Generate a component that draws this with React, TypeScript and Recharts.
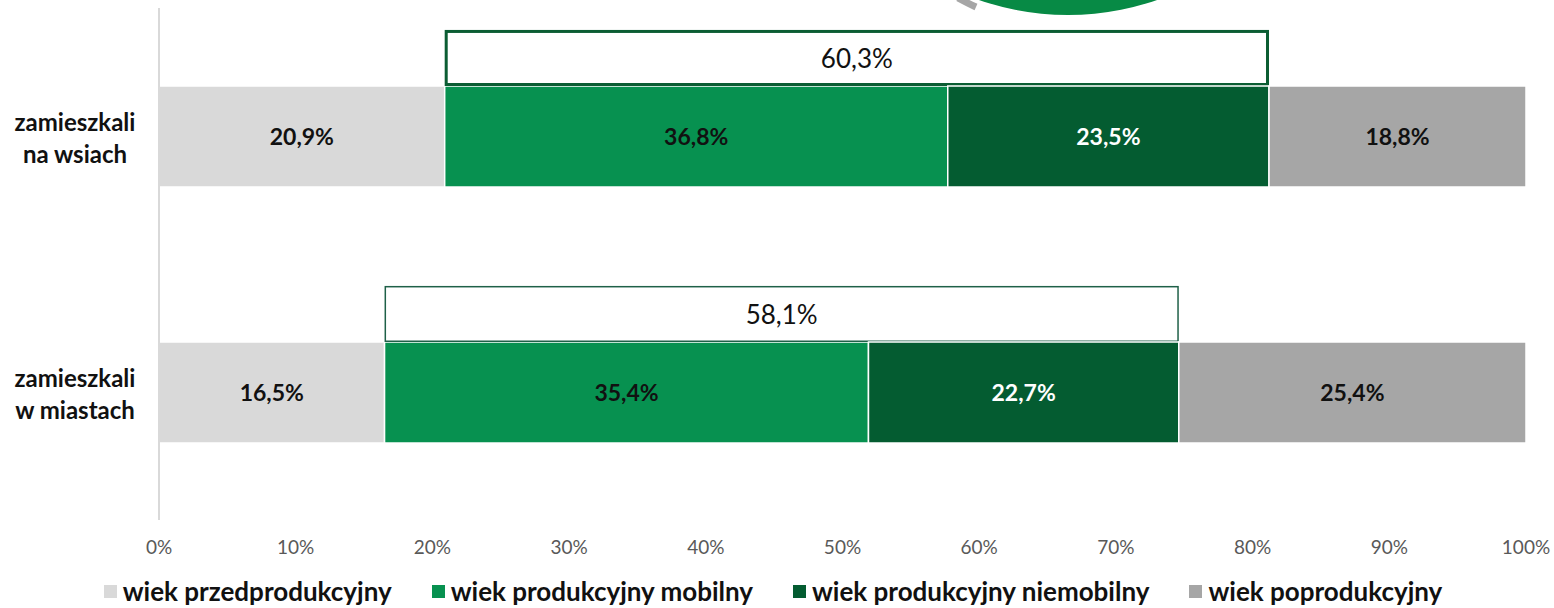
import React from "react";
import {
  BarChart,
  Bar,
  XAxis,
  YAxis,
  Legend,
  LabelList,
  Customized,
} from "recharts";

const categories = ["zamieszkali na wsiach", "zamieszkali w miastach"];
const przed = [20.9, 16.5];
const mobilny = [36.8, 35.4];
const niemobilny = [23.5, 22.7];
const po = [18.8, 25.4];
const xTicks = [0, 10, 20, 30, 40, 50, 60, 70, 80, 90, 100];

const data = categories.map((name, i) => ({
  name,
  przed: przed[i],
  mobilny: mobilny[i],
  niemobilny: niemobilny[i],
  po: po[i],
}));

const FONT = "Lato, 'Open Sans', sans-serif";
const C_PRZED = "#d9d9d9";
const C_MOB = "#079150";
const C_NIEMOB = "#045c31";
const C_PO = "#a6a6a6";

const boxStroke = [3, 1.5];
const boxColor = ["#0b5d33", "#1f6048"];

const fmt = (v: any) => `${Number(v).toFixed(1).replace(".", ",")}%`;

const MobileShape = (props: any) => {
  const { x, y, width, height, payload, index } = props;
  const total = payload.mobilny + payload.niemobilny;
  const bw = (width * total) / payload.mobilny;
  const bh = height * 0.555;
  const sw = boxStroke[index] ?? 1.5;
  return (
    <g>
      <rect x={x} y={y} width={width} height={height} fill={C_MOB} stroke="#fff" strokeWidth={1.5} />
      <rect
        x={x + sw / 2}
        y={y - bh + sw / 2}
        width={bw - sw}
        height={bh - sw}
        fill="#fff"
        stroke={boxColor[index] ?? "#0b5d33"}
        strokeWidth={sw}
      />
      <text
        x={x + bw / 2}
        y={y - bh / 2}
        textAnchor="middle"
        dominantBaseline="central"
        fontFamily={FONT}
        fontSize={26}
        fill="#111"
      >
        {fmt(total)}
      </text>
    </g>
  );
};

const YTick = (props: any) => {
  const { y, payload } = props;
  const words = String(payload.value).split(" ");
  const l1 = words[0];
  const l2 = words.slice(1).join(" ");
  return (
    <g>
      <text x={75} y={y - 15} textAnchor="middle" dominantBaseline="central" fontFamily={FONT} fontWeight={700} fontSize={24} fill="#111">
        {l1}
      </text>
      <text x={75} y={y + 17} textAnchor="middle" dominantBaseline="central" fontFamily={FONT} fontWeight={700} fontSize={24} fill="#111">
        {l2}
      </text>
    </g>
  );
};

const legendItems = [
  { label: "wiek przedprodukcyjny", color: C_PRZED },
  { label: "wiek produkcyjny mobilny", color: C_MOB },
  { label: "wiek produkcyjny niemobilny", color: C_NIEMOB },
  { label: "wiek poprodukcyjny", color: C_PO },
];

const LegendContent = () => (
  <div
    style={{
      display: "flex",
      justifyContent: "center",
      alignItems: "center",
      gap: 40,
      height: 40,
      paddingTop: 6,
      paddingLeft: 20,
      boxSizing: "border-box",
      fontFamily: FONT,
      fontWeight: 700,
      fontSize: 26,
      color: "#111",
    }}
  >
    {legendItems.map((it) => (
      <div key={it.label} style={{ display: "flex", alignItems: "center", gap: 6 }}>
        <span style={{ display: "inline-block", width: 13, height: 13, background: it.color }} />
        <span>{it.label}</span>
      </div>
    ))}
  </div>
);

const Decoration = () => (
  <g>
    <path d="M 958 -2 A 278 278 0 0 0 976 7" fill="none" stroke="#a6a6a6" strokeWidth={7} />
    <circle cx={1068} cy={-257} r={272} fill="#078a45" />
  </g>
);

export default function App() {
  const labelStyle = { fontFamily: FONT, fontWeight: 700, fontSize: 23 };
  return (
    <div style={{ position: "absolute", left: 0, top: 0, width: 1554, height: 608, background: "#fff" }}>
      <BarChart
        width={1554}
        height={608}
        data={data}
        layout="vertical"
        margin={{ top: 8, right: 28, left: 0, bottom: 0 }}
        barCategoryGap={0}
      >
        <Customized component={Decoration} />
        <XAxis
          type="number"
          domain={[0, 100]}
          ticks={xTicks}
          tickFormatter={(v) => `${v}%`}
          axisLine={false}
          tickLine={false}
          height={48}
          tickMargin={15}
          tick={{ fontFamily: FONT, fontSize: 19, fill: "#595959" }}
          interval={0}
        />
        <YAxis
          type="category"
          dataKey="name"
          width={159}
          axisLine={{ stroke: "#d9d9d9", strokeWidth: 2 }}
          tickLine={false}
          tick={<YTick />}
        />
        <Legend verticalAlign="bottom" height={40} content={<LegendContent />} />
        <Bar dataKey="przed" stackId="a" fill={C_PRZED} stroke="#fff" strokeWidth={1.5} barSize={101} isAnimationActive={false}>
          <LabelList dataKey="przed" position="center" formatter={fmt} fill="#111" style={labelStyle} />
        </Bar>
        <Bar dataKey="mobilny" stackId="a" fill={C_MOB} barSize={101} shape={<MobileShape />} isAnimationActive={false}>
          <LabelList dataKey="mobilny" position="center" formatter={fmt} fill="#111" style={labelStyle} />
        </Bar>
        <Bar dataKey="niemobilny" stackId="a" fill={C_NIEMOB} stroke="#fff" strokeWidth={1.5} barSize={101} isAnimationActive={false}>
          <LabelList dataKey="niemobilny" position="center" formatter={fmt} fill="#fff" style={labelStyle} />
        </Bar>
        <Bar dataKey="po" stackId="a" fill={C_PO} stroke="#fff" strokeWidth={1.5} barSize={101} isAnimationActive={false}>
          <LabelList dataKey="po" position="center" formatter={fmt} fill="#111" style={labelStyle} />
        </Bar>
      </BarChart>
    </div>
  );
}
